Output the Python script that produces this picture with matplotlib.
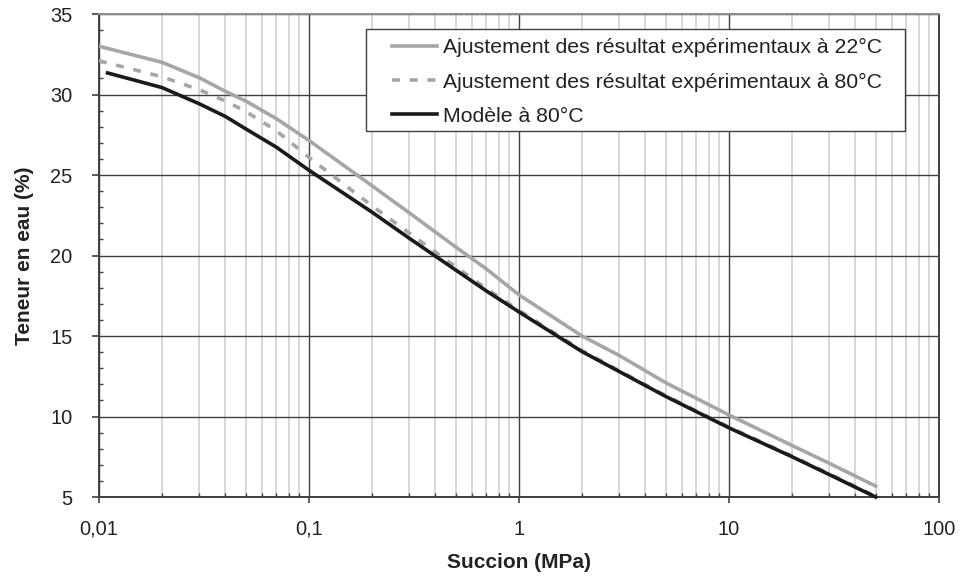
import matplotlib
matplotlib.use('Agg')
import matplotlib.pyplot as plt
from matplotlib.patches import Rectangle
from matplotlib.ticker import FixedLocator, FuncFormatter, MultipleLocator

plt.rcParams['font.family'] = ['Liberation Sans', 'DejaVu Sans']

# Succion (MPa) / teneur en eau (%)
succion = [0.01, 0.02, 0.03, 0.04, 0.05, 0.07, 0.1, 0.2, 0.3, 0.5, 0.7,
           1, 2, 3, 5, 10, 20, 30, 50]
teneur_22 = [33.0, 32.0, 31.05, 30.2, 29.6, 28.5, 27.15, 24.33, 22.66, 20.53,
             19.17, 17.56, 15.0, 13.8, 12.1, 10.1, 8.2, 7.1, 5.68]
teneur_80 = [32.1, 31.1, 30.3, 29.6, 28.95, 27.75, 26.1, 23.08, 21.4, 19.3,
             17.95, 16.6, 14.1, 12.85, 11.3, 9.35, 7.55, 6.45, 5.05]

succion_modele = [0.011, 0.02, 0.03, 0.04, 0.05, 0.07, 0.1, 0.2, 0.3, 0.5,
                  0.7, 1, 2, 3, 5, 10, 20, 30, 50]
teneur_modele = [31.34, 30.43, 29.43, 28.64, 27.87, 26.73, 25.3, 22.69, 21.08,
                 19.1, 17.8, 16.5, 14.03, 12.8, 11.25, 9.3, 7.5, 6.4, 5.0]

x_ticks = [0.01, 0.1, 1, 10, 100]
x_labels = ['0,01', '0,1', '1', '10', '100']

fig = plt.figure(figsize=(9.6, 5.77), dpi=100)
ax = fig.add_axes([0.103, 0.1386, 0.875, 0.8371])

gris = '#a6a6a6'
noir = '#1a1a1a'
ax.plot(succion, teneur_22, color=gris, lw=2.6, zorder=3,
        label='Ajustement des résultat expérimentaux à 22°C')
ax.plot(succion, teneur_80, color=gris, lw=2.6, ls=(0, (2.2, 2.7)), zorder=3,
        label='Ajustement des résultat expérimentaux à 80°C')
ax.plot(succion_modele, teneur_modele, color=noir, lw=2.6, zorder=4,
        clip_on=False, label='Modèle à 80°C')

ax.set_xscale('log')
ax.set_xlim(0.01, 100)
ax.set_ylim(5, 35)

ax.xaxis.set_major_locator(FixedLocator(x_ticks))
ax.xaxis.set_major_formatter(FuncFormatter(
    lambda v, pos: x_labels[x_ticks.index(v)] if v in x_ticks else ''))
minors = [m * 10.0 ** e for e in range(-2, 2) for m in range(2, 10)]
ax.xaxis.set_minor_locator(FixedLocator(minors))
ax.xaxis.set_minor_formatter(FuncFormatter(lambda v, pos: ''))
ax.yaxis.set_major_locator(MultipleLocator(5))
ax.yaxis.set_minor_locator(MultipleLocator(1))

# grille : décades et multiples de 5 en foncé, sous-divisions en clair
ax.grid(which='major', color='#404040', lw=1.0, zorder=1)
ax.grid(which='minor', axis='x', color='#d4d4d4', lw=1.3, zorder=0)
ax.set_axisbelow(True)

txt = '#222222'
ax.tick_params(which='major', direction='out', length=4.5, width=1.2,
               color='#404040', labelsize=14.4, labelcolor=txt)
ax.tick_params(axis='y', which='major', pad=14, length=5)
ax.tick_params(axis='x', which='major', pad=12)
ax.tick_params(which='minor', direction='in', length=3.2, width=1.0,
               color='#404040')

for side in ['left', 'bottom', 'right']:
    ax.spines[side].set_color('#404040')
    ax.spines[side].set_linewidth(1.4)
ax.spines['top'].set_color('#8c8c8c')
ax.spines['top'].set_linewidth(1.4)

ax.set_xlabel('Succion (MPa)', fontsize=15, fontweight='bold', color=txt,
              labelpad=10)
ax.set_ylabel('Teneur en eau (%)', fontsize=15, fontweight='bold', color=txt,
              labelpad=12)

# cadre de légende dessiné à part pour garder la marge à gauche
cadre = Rectangle((0.318, 0.7584), 0.6417, 0.2099, transform=ax.transAxes,
                  facecolor='white', edgecolor='#404040', lw=1.0, zorder=5)
ax.add_patch(cadre)
leg = ax.legend(loc='upper left', bbox_to_anchor=(0.3488, 0.950),
                borderaxespad=0, borderpad=0, fontsize=15.3,
                handlelength=2.12, handletextpad=0.28, labelspacing=0.72,
                frameon=False)
leg.set_zorder(6)
for t in leg.get_texts():
    t.set_color(txt)

fig.savefig('out.png', dpi=100)
